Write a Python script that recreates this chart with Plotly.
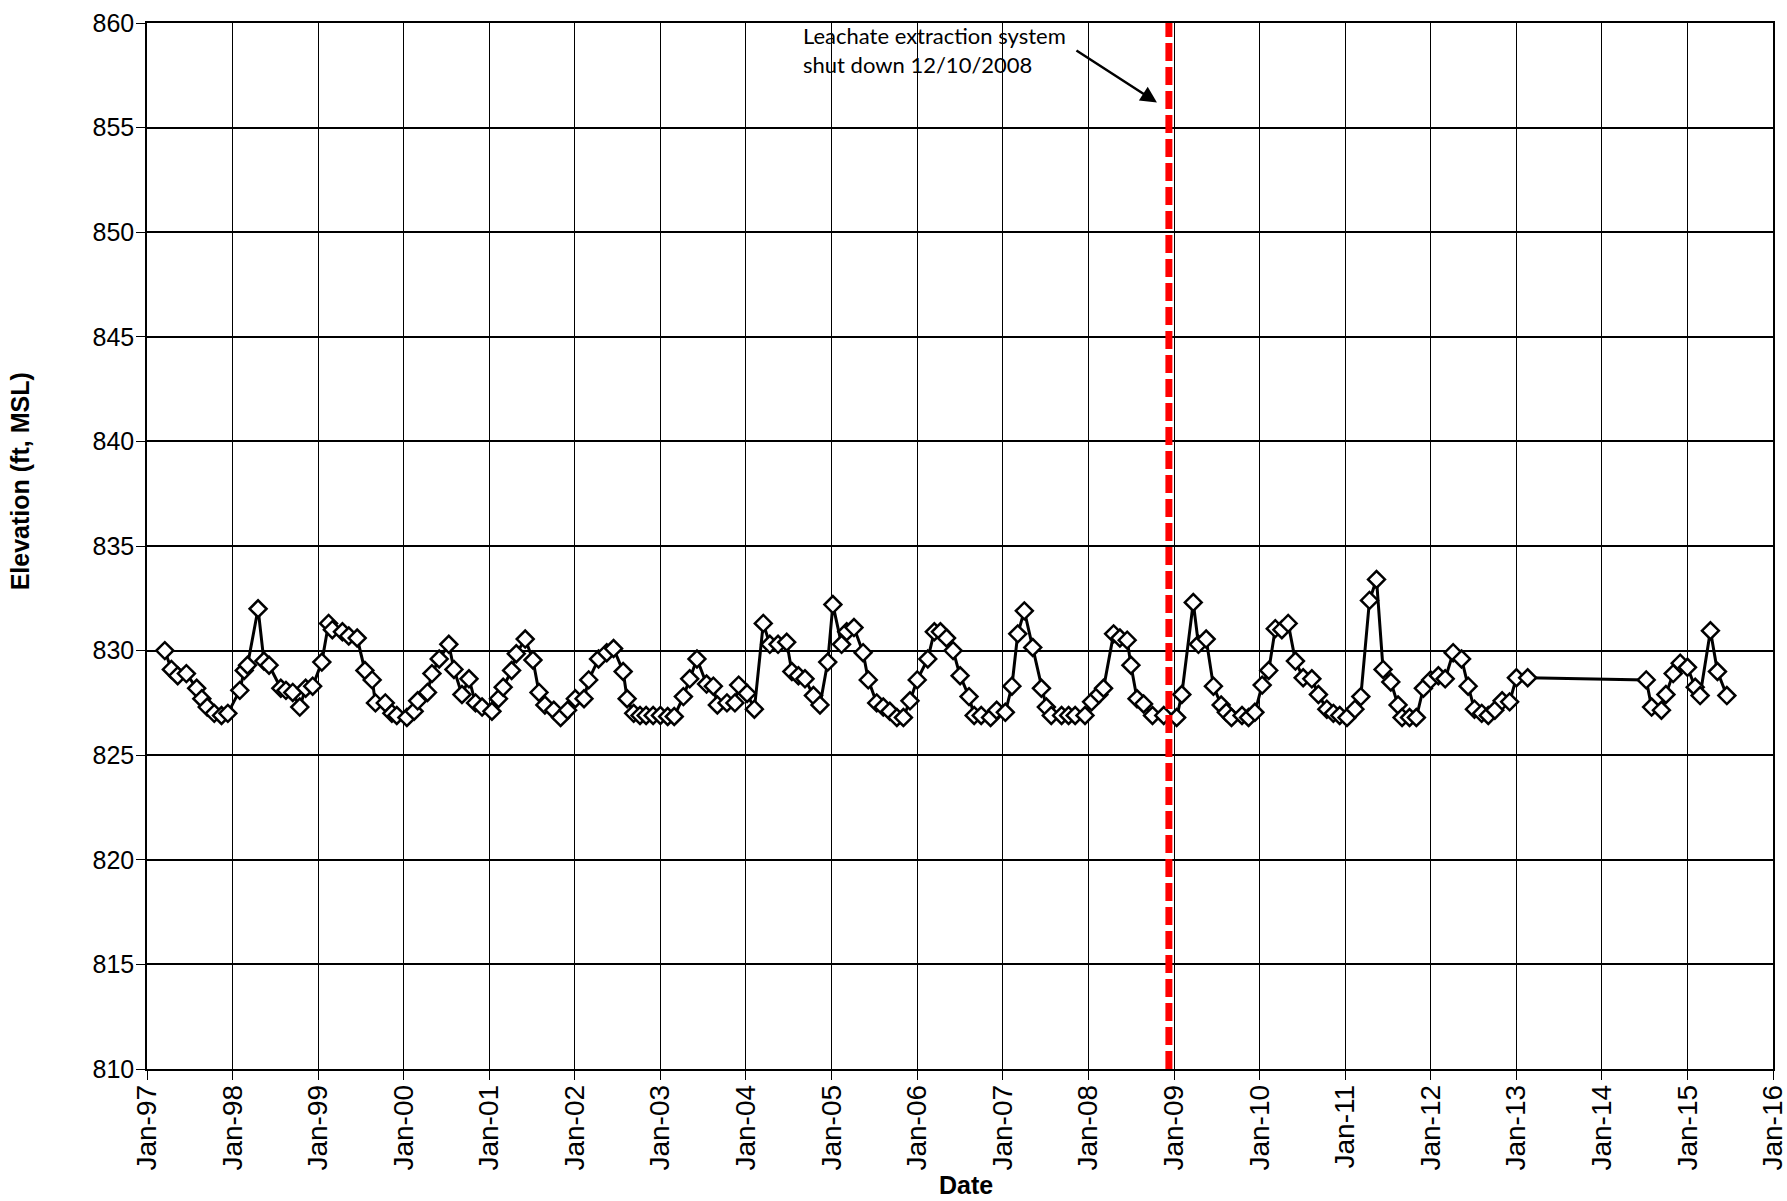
import plotly.graph_objects as go

dates = [
    "1997-03-18", "1997-04-15", "1997-05-12", "1997-06-18", "1997-08-01", "1997-08-23", "1997-09-15",
    "1997-10-15", "1997-11-15", "1997-12-12", "1998-02-01", "1998-02-20", "1998-03-06", "1998-04-20",
    "1998-05-15", "1998-06-06", "1998-07-26", "1998-08-17", "1998-09-15", "1998-10-15", "1998-11-09",
    "1998-12-09", "1999-01-17", "1999-02-15", "1999-03-03", "1999-04-15", "1999-05-12", "1999-06-17",
    "1999-07-20", "1999-08-20", "1999-09-03", "1999-10-15", "1999-11-12", "1999-12-03", "2000-01-15",
    "2000-02-15", "2000-03-01", "2000-04-12", "2000-05-01", "2000-06-01", "2000-07-12", "2000-08-03",
    "2000-09-06", "2000-10-06", "2000-11-03", "2000-12-01", "2001-01-12", "2001-02-09", "2001-03-01",
    "2001-04-06", "2001-04-26", "2001-06-03", "2001-07-06", "2001-08-01", "2001-08-26", "2001-10-03",
    "2001-11-01", "2001-12-01", "2002-01-03", "2002-02-09", "2002-03-01", "2002-04-12", "2002-05-17",
    "2002-06-15", "2002-07-26", "2002-08-12", "2002-09-09", "2002-10-06", "2002-11-01", "2002-12-01",
    "2003-01-01", "2003-02-01", "2003-03-01", "2003-04-09", "2003-05-06", "2003-06-06", "2003-07-17",
    "2003-08-15", "2003-09-01", "2003-10-12", "2003-11-15", "2003-12-01", "2004-01-06", "2004-02-06",
    "2004-03-15", "2004-04-12", "2004-05-17", "2004-06-23", "2004-07-15", "2004-08-12", "2004-09-09",
    "2004-10-15", "2004-11-12", "2004-12-15", "2005-01-06", "2005-02-12", "2005-03-06", "2005-04-06",
    "2005-05-15", "2005-06-06", "2005-07-12", "2005-08-09", "2005-09-06", "2005-10-06", "2005-11-03",
    "2005-12-01", "2006-01-01", "2006-02-15", "2006-03-15", "2006-04-10", "2006-05-06", "2006-06-03",
    "2006-07-03", "2006-08-10", "2006-09-01", "2006-10-01", "2006-11-10", "2006-12-06", "2007-01-12",
    "2007-02-09", "2007-03-06", "2007-04-03", "2007-05-09", "2007-06-15", "2007-07-06", "2007-07-27",
    "2007-09-09", "2007-10-09", "2007-11-06", "2007-12-18", "2008-01-15", "2008-02-15", "2008-03-06",
    "2008-04-18", "2008-05-15", "2008-06-15", "2008-07-01", "2008-07-27", "2008-08-24", "2008-10-01",
    "2008-11-18", "2009-01-12", "2009-02-03", "2009-03-24", "2009-04-15", "2009-05-18", "2009-06-18",
    "2009-07-21", "2009-08-12", "2009-09-03", "2009-10-18", "2009-11-15", "2009-12-12", "2010-01-12",
    "2010-02-09", "2010-03-09", "2010-04-06", "2010-05-03", "2010-06-03", "2010-07-06", "2010-08-12",
    "2010-09-09", "2010-10-15", "2010-11-12", "2010-12-09", "2011-01-09", "2011-02-12", "2011-03-09",
    "2011-04-15", "2011-05-15", "2011-06-12", "2011-07-15", "2011-08-15", "2011-09-01", "2011-10-03",
    "2011-11-01", "2011-12-01", "2012-01-01", "2012-02-03", "2012-03-03", "2012-04-06", "2012-05-12",
    "2012-06-09", "2012-07-06", "2012-08-06", "2012-09-03", "2012-10-01", "2012-11-01", "2012-12-03",
    "2013-01-01", "2013-02-18", "2014-07-09", "2014-08-01", "2014-09-12", "2014-10-01", "2014-11-01",
    "2014-12-01", "2015-01-01", "2015-02-03", "2015-02-24", "2015-04-09", "2015-05-09", "2015-06-18",
]

elevation = [
    830.0, 829.1, 828.8, 828.9, 828.2, 827.7, 827.3,
    827.0, 826.9, 827.0, 828.1, 829.05, 829.3, 832.0,
    829.5, 829.3, 828.2, 828.1, 828.0, 827.3, 828.2,
    828.3, 829.45, 831.3, 831.0, 830.9, 830.7, 830.6,
    829.05, 828.6, 827.5, 827.5, 827.0, 826.9, 826.8,
    827.1, 827.6, 828.0, 828.9, 829.6, 830.3, 829.1,
    827.9, 828.65, 827.5, 827.3, 827.1, 827.7, 828.25,
    829.05, 829.85, 830.55, 829.55, 828.0, 827.4, 827.15,
    826.8, 827.15, 827.7, 827.7, 828.6, 829.6, 829.9,
    830.1, 829.0, 827.7, 827.0, 826.9, 826.9, 826.9,
    826.9, 826.85, 826.85, 827.8, 828.65, 829.6, 828.4,
    828.3, 827.4, 827.5, 827.5, 828.35, 827.95, 827.2,
    831.3, 830.3, 830.3, 830.4, 829.0, 828.8, 828.65,
    827.85, 827.4, 829.45, 832.2, 830.3, 830.9, 831.1,
    829.9, 828.6, 827.5, 827.3, 827.1, 826.8, 826.8,
    827.6, 828.6, 829.6, 830.9, 830.9, 830.6, 830.0,
    828.8, 827.8, 826.9, 826.9, 826.8, 827.15, 827.05,
    828.3, 830.8, 831.9, 830.15, 828.2, 827.3, 826.9,
    826.9, 826.9, 826.9, 826.9, 827.55, 827.9, 828.2,
    830.8, 830.6, 830.5, 829.3, 827.7, 827.45, 826.9,
    826.9, 826.8, 827.9, 832.3, 830.3, 830.55, 828.3,
    827.4, 827.05, 826.8, 826.9, 826.8, 827.05, 828.35,
    829.05, 831.05, 831.0, 831.3, 829.5, 828.7, 828.65,
    827.9, 827.2, 827.0, 826.9, 826.8, 827.2, 827.8,
    832.4, 833.4, 829.1, 828.5, 827.4, 826.8, 826.8,
    826.8, 828.2, 828.6, 828.8, 828.65, 829.9, 829.6,
    828.3, 827.2, 827.0, 826.9, 827.15, 827.6, 827.55,
    828.7, 828.7, 828.6, 827.3, 827.15, 827.9, 828.9,
    829.4, 829.2, 828.25, 827.85, 830.95, 829.0, 827.85,
]

shutdown_date = "2008-12-10"
annotation_lines = ["Leachate extraction system", "shut down 12/10/2008"]
x_title = "Date"
y_title = "Elevation (ft, MSL)"
x_range = ["1997-01-01", "2016-01-01"]
y_range = [810, 860]

fig = go.Figure()
fig.add_trace(go.Scatter(
    x=dates, y=elevation, mode="lines+markers",
    line=dict(color="black", width=3),
    marker=dict(symbol="diamond", size=13, color="white",
                line=dict(color="black", width=2.5)),
    showlegend=False,
))

fig.add_shape(type="line", xref="x", yref="paper",
              x0=shutdown_date, x1=shutdown_date, y0=0, y1=1,
              line=dict(color="#ff0000", width=7, dash="18px,6px"))

x_tick_font = dict(family="Arial, Liberation Sans", size=28, color="black")
y_tick_font = dict(family="Arial, Liberation Sans", size=25, color="black")
title_font = dict(family="Arial, Liberation Sans", size=25, color="black")

fig.update_xaxes(
    type="date", range=x_range, dtick="M12", tick0="1997-01-01",
    tickformat="%b-%y", tickangle=-90, tickfont=x_tick_font,
    showgrid=True, gridcolor="black", gridwidth=1.2,
    showline=True, linecolor="black", linewidth=1.5, mirror=True,
    ticks="outside", ticklen=9, tickcolor="black", tickwidth=1.2,
    ticklabelstandoff=-6, ticklabeloverflow="allow",
    zeroline=False,
)
fig.update_yaxes(
    range=y_range, dtick=5, tick0=810, tickfont=y_tick_font,
    showgrid=True, gridcolor="black", gridwidth=1.5,
    showline=True, linecolor="black", linewidth=1.5, mirror=True,
    ticks="outside", ticklen=9, tickcolor="black", tickwidth=1.2,
    ticklabelstandoff=-3, ticklabeloverflow="allow",
    zeroline=False,
)

fig.add_annotation(
    xref="paper", yref="paper", x=0.4022, y=1.003, xanchor="left", yanchor="top",
    text="<br>".join(annotation_lines), align="left", showarrow=False,
    font=dict(family="Lato, Open Sans", size=22, color="black"),
)
fig.add_annotation(
    xref="x", yref="y", x="2008-10-20", y=856.2, text="",
    showarrow=True, ax=-82, ay=-53, axref="pixel", ayref="pixel",
    arrowhead=2, arrowsize=1.3, arrowwidth=2.5, arrowcolor="black", standoff=0,
)
fig.add_annotation(
    xref="paper", yref="paper", x=-0.078, y=0.562, text="<b>" + y_title + "</b>",
    textangle=-90, showarrow=False, font=title_font, xanchor="center", yanchor="middle",
)
fig.add_annotation(
    xref="paper", yref="paper", x=0.5037, y=-0.111, text="<b>" + x_title + "</b>",
    showarrow=False, font=title_font, xanchor="center", yanchor="middle",
)

fig.update_layout(
    width=1787, height=1201,
    margin=dict(l=147, r=14, t=23, b=132, autoexpand=False),
    paper_bgcolor="white", plot_bgcolor="white",
)

fig.write_html("out.html", config={"displayModeBar": False},
               post_script="document.body.style.margin='0';document.body.style.overflow='hidden';")
